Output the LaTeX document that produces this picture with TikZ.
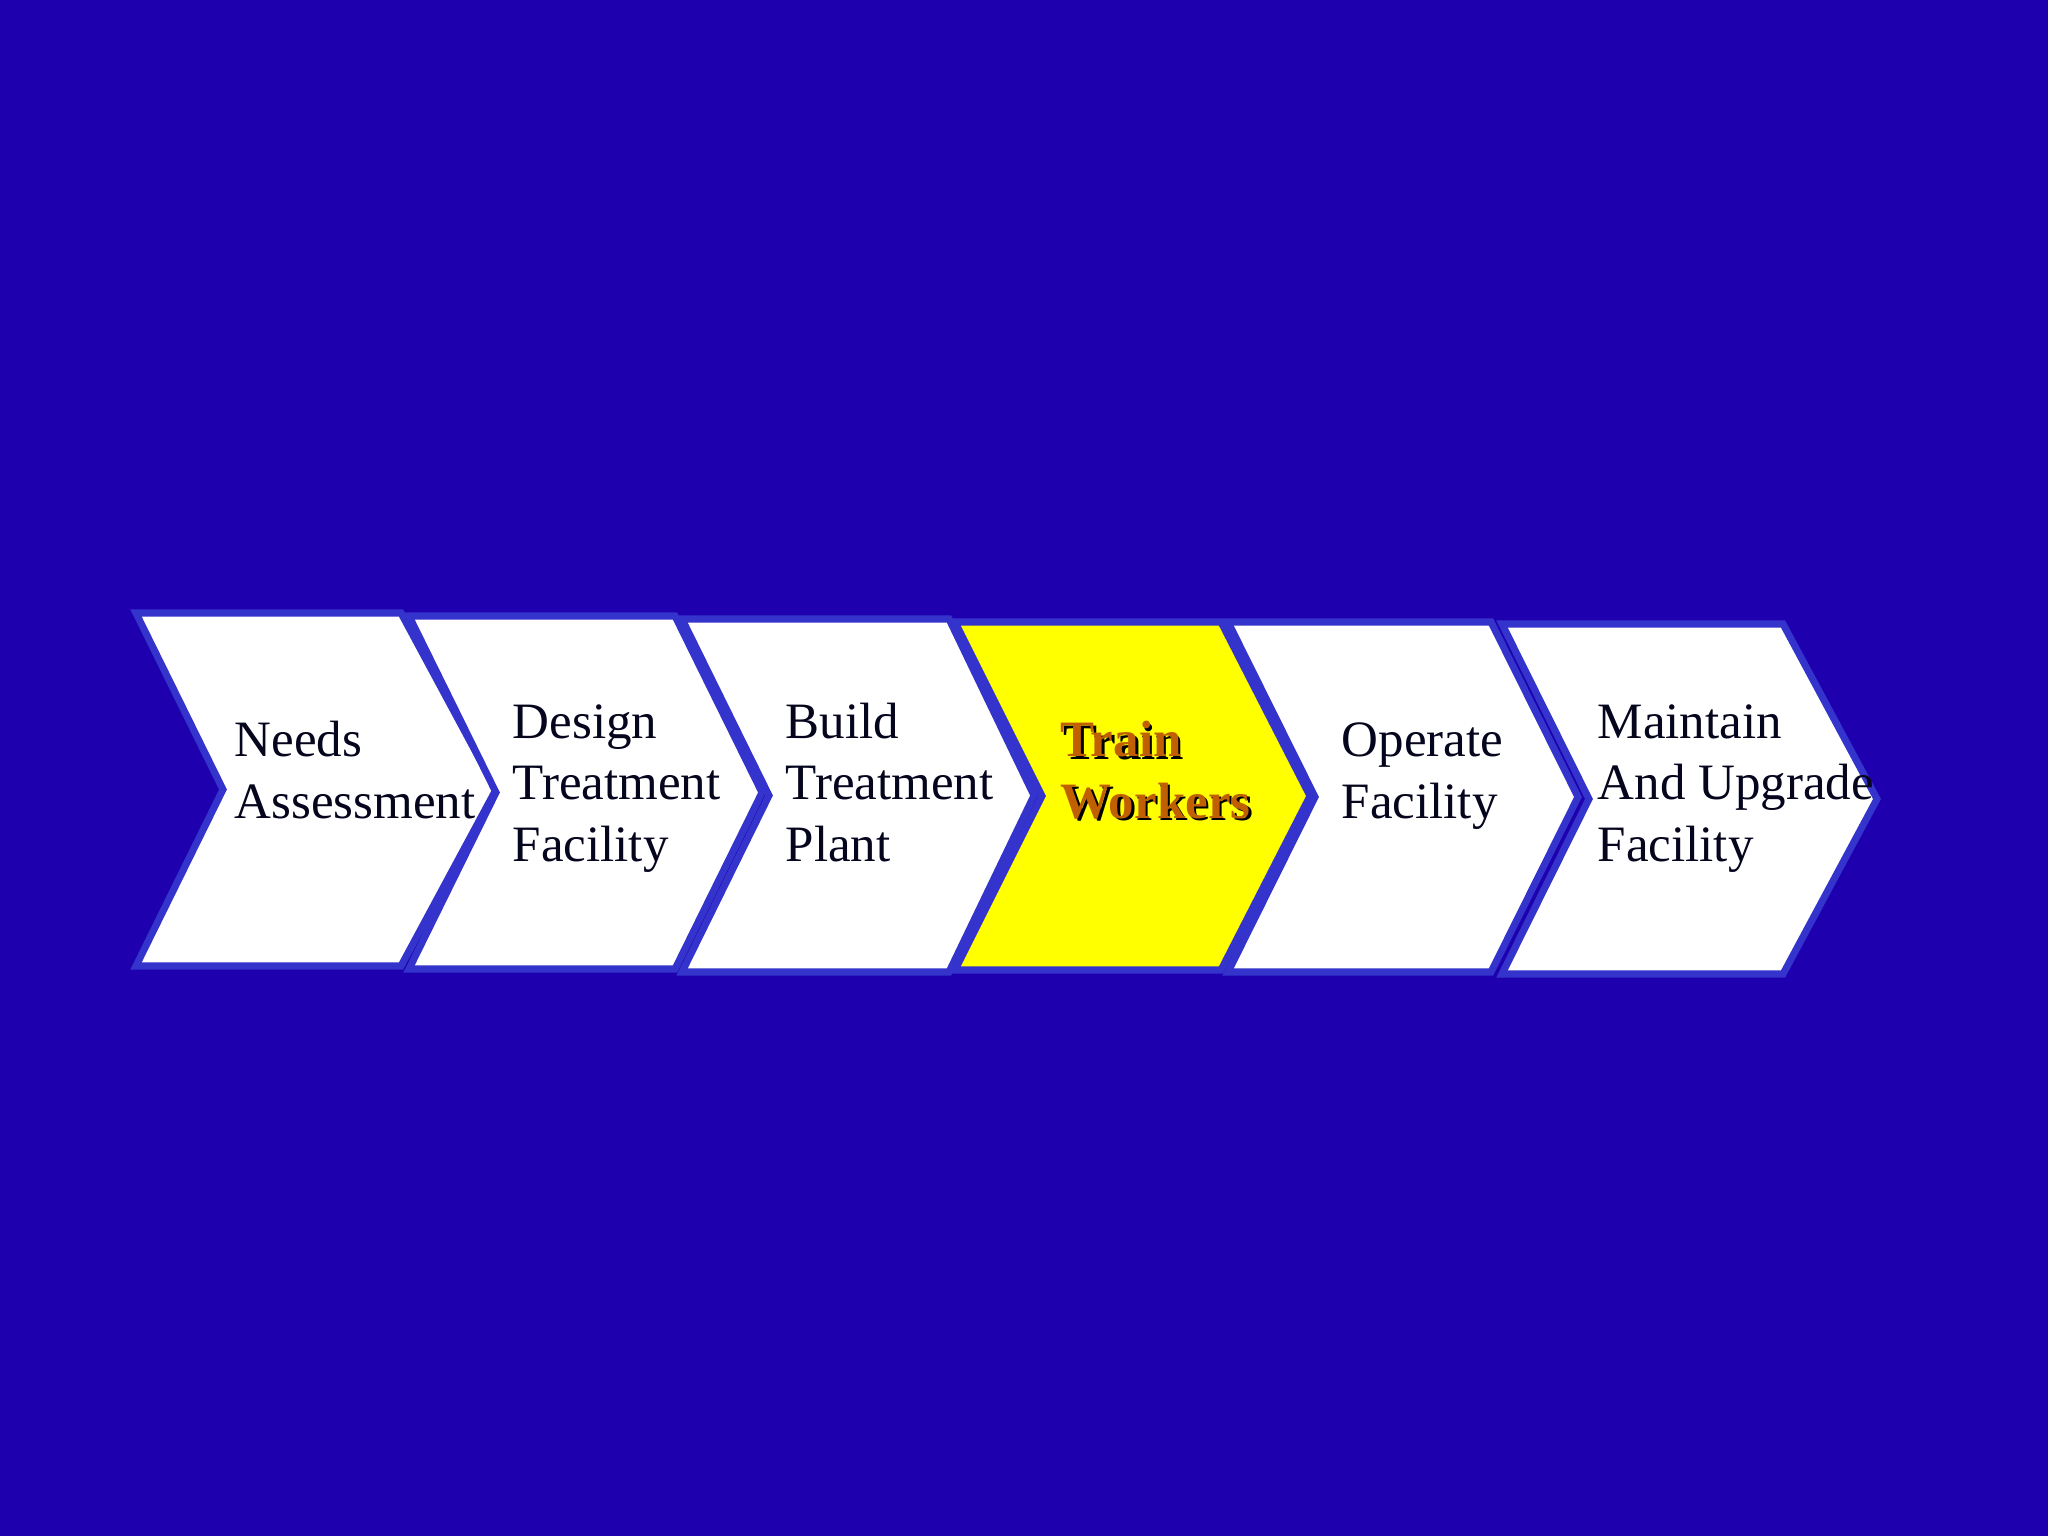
\documentclass[tikz,border=0pt]{standalone}
\usepackage{fontspec}
\setmainfont{Liberation Serif}
\usepackage{xcolor}
\definecolor{Hintergrund}{RGB}{30,0,175}
\definecolor{Rand}{RGB}{52,52,204}
\definecolor{Schrift}{RGB}{5,5,30}
\definecolor{Gelb}{RGB}{255,255,0}
\definecolor{Braun}{RGB}{192,96,0}
\newcommand{\schattiert}[1]{\makebox[0pt][l]{\kern.7pt\raisebox{-.7pt}{\color{black}#1}}#1}
\tikzset{
  Stufe/.style={draw=Rand, line width=2pt, fill=#1}, % für Pfeilformen
  Stufentext/.style={anchor=base west, align=left, text=Schrift, inner sep=0pt,
    font=\fontsize{14.5}{17.4}\selectfont} % für Beschriftung
}
\begin{document}
\begin{tikzpicture}[x=0.01cm, y=-0.01cm]
%Hintergrund
\fill[Hintergrund] (0,0) rectangle (2048,1536);
\useasboundingbox (0,0) rectangle (2048,1536);

%Pfeilformen
\foreach \n/\L/\S/\P/\T/\B/\f in {
  1/136/401/496/613/966/white,
  2/409/675/762/616/969/white,
  3/682/949/1034/619/972/white,
  4/955/1221/1310/622/970/Gelb,
  5/1228/1491/1578/622/972/white,
  6/1502/1783/1877/624/974/white}
  \draw[Stufe=\f] (\L,\T) -- (\S,\T) -- (\P,{(\T+\B)/2}) -- (\S,\B)
    -- (\L,\B) -- ({\L+87},{(\T+\B)/2}) -- cycle;

%Beschriftung (Grundlinie der letzten Zeile)
\node[Stufentext] (Bedarf) at (234,818) {Needs\\Assessment};
\node[Stufentext] (Entwurf) at (512,861) {Design\\Treatment\\Facility};
\node[Stufentext] (Bau) at (785,861) {Build\\Treatment\\Plant};
\node[Stufentext, text=Braun, font=\fontsize{14.5}{17.4}\selectfont\bfseries]
  (Schulung) at (1060,818) {\schattiert{Train}\\\schattiert{Workers}};
\node[Stufentext] (Betrieb) at (1341,818) {Operate\\Facility};
\node[Stufentext] (Wartung) at (1597,861) {Maintain\\And Upgrade\\Facility};

\end{tikzpicture}
\end{document}
